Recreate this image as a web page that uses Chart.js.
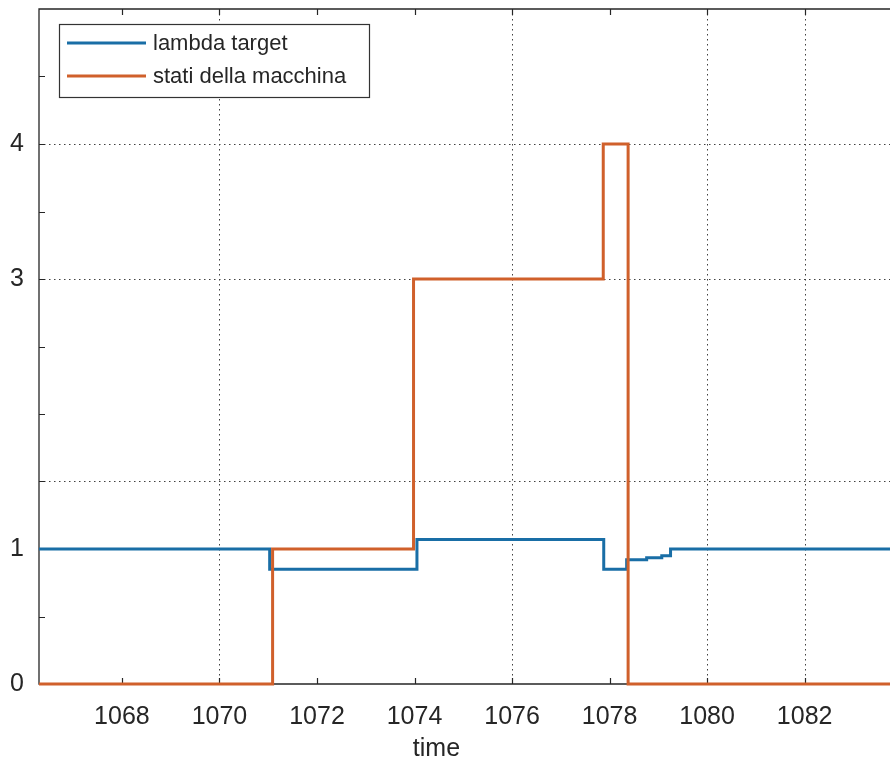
<!DOCTYPE html>
<html>
<head>
<meta charset="utf-8">
<script src="https://cdn.jsdelivr.net/npm/chart.js@4/dist/chart.umd.min.js"></script>
<style>
  html, body { margin: 0; padding: 0; background: #fff; }
  #wrap { width: 890px; height: 763px; }
</style>
</head>
<body>
<div id="wrap"><canvas id="chart" width="890" height="763"></canvas></div>
<script>
// values (step signals: value holds until the next time)
const lambdaTime  = [1066.3, 1071.03, 1074.05, 1077.88, 1078.35, 1078.76, 1079.07, 1079.25, 1083.75];
const lambdaValue = [1, 0.85, 1.07, 0.85, 0.92, 0.935, 0.95, 1, 1];
const statoTime   = [1066.3, 1071.09, 1073.98, 1077.87, 1078.38, 1083.75];
const statoValue  = [0, 1, 3, 4, 0, 0];

const xTicks  = [1068, 1070, 1072, 1074, 1076, 1078, 1080, 1082];
const yTicks  = [0, 0.5, 1, 1.5, 2, 2.5, 3, 3.5, 4, 4.5];
const yLabels = [0, 1, 3, 4];
const xGrid   = [1070, 1076, 1080, 1082];
const yGrid   = [1.5, 3, 4];

const X_MIN = 1066.3, X_MAX = 1083.75;
const BLUE = '#196ea6';
const ORANGE = '#d0602b';
const AXIS = '#262626';
const FONT = '"Liberation Sans", Arial, sans-serif';

function toPoints(xs, ys) {
    return xs.map((v, i) => ({ x: v, y: ys[i] }));
}

// matlab-ish axes: dotted grid, box, inward ticks, legend, xlabel
const axesBox = {
    id: 'axesBox',
    beforeDatasetsDraw(chart) {
        const { ctx, chartArea: a, scales: { x, y } } = chart;
        ctx.save();

        ctx.strokeStyle = '#404040';
        ctx.lineWidth = 1;
        ctx.setLineDash([1.5, 3.5]);
        ctx.beginPath();
        xGrid.forEach(v => {
            const px = Math.round(x.getPixelForValue(v)) + 0.5;
            ctx.moveTo(px, a.top); ctx.lineTo(px, a.bottom);
        });
        yGrid.forEach(v => {
            const py = Math.round(y.getPixelForValue(v)) + 0.5;
            ctx.moveTo(a.left, py); ctx.lineTo(a.right, py);
        });
        ctx.stroke();
        ctx.setLineDash([]);

        ctx.strokeStyle = AXIS;
        ctx.lineWidth = 1.3;
        ctx.beginPath();
        ctx.moveTo(a.right, a.top); ctx.lineTo(a.left, a.top);
        ctx.lineTo(a.left, a.bottom); ctx.lineTo(a.right, a.bottom);
        ctx.stroke();

        // inward tick marks
        const len = 6;
        ctx.lineWidth = 1.2;
        ctx.beginPath();
        yTicks.forEach(v => {
            const py = Math.round(y.getPixelForValue(v)) + 0.5;
            ctx.moveTo(a.left, py); ctx.lineTo(a.left + len, py);
        });
        xTicks.forEach(v => {
            const px = Math.round(x.getPixelForValue(v)) + 0.5;
            ctx.moveTo(px, a.bottom); ctx.lineTo(px, a.bottom - len);
            ctx.moveTo(px, a.top); ctx.lineTo(px, a.top + len);
        });
        ctx.stroke();
        ctx.restore();
    },
    afterDatasetsDraw(chart) {
        const { ctx, scales: { x } } = chart;
        ctx.save();

        // legend box
        const bx = 59.5, by = 24.5, bw = 310, bh = 73;
        ctx.fillStyle = '#fff';
        ctx.fillRect(bx, by, bw, bh);
        ctx.strokeStyle = '#333';
        ctx.lineWidth = 1.2;
        ctx.strokeRect(bx, by, bw, bh);

        ctx.font = '22px ' + FONT;
        ctx.textBaseline = 'middle';
        ctx.textAlign = 'left';
        chart.data.datasets.forEach((ds, i) => {
            const ly = 43 + i * 33;
            ctx.strokeStyle = ds.borderColor;
            ctx.lineWidth = 3;
            ctx.beginPath();
            ctx.moveTo(67, ly); ctx.lineTo(146, ly);
            ctx.stroke();
            ctx.fillStyle = AXIS;
            ctx.fillText(ds.label, 153, ly + 1);
        });

        // x label
        ctx.font = '25px ' + FONT;
        ctx.textAlign = 'center';
        ctx.textBaseline = 'alphabetic';
        ctx.fillStyle = AXIS;
        ctx.fillText('time', x.getPixelForValue(1074.45), 756);
        ctx.restore();
    }
};

const ctx = document.getElementById('chart').getContext('2d');
new Chart(ctx, {
    type: 'scatter',
    data: {
        datasets: [
            {
                label: 'lambda target',
                data: toPoints(lambdaTime, lambdaValue),
                showLine: true,
                stepped: true,
                borderColor: BLUE,
                borderWidth: 3,
                pointRadius: 0,
                clip: false,
                order: 2
            },
            {
                label: 'stati della macchina',
                data: toPoints(statoTime, statoValue),
                showLine: true,
                stepped: true,
                borderColor: ORANGE,
                borderWidth: 3,
                pointRadius: 0,
                clip: false,
                order: 1
            }
        ]
    },
    options: {
        responsive: false,
        animation: false,
        layout: { padding: { top: 9, right: 0, left: 0, bottom: 0 } },
        plugins: {
            legend: { display: false },
            tooltip: { enabled: false }
        },
        scales: {
            x: {
                type: 'linear',
                min: X_MIN,
                max: X_MAX,
                afterBuildTicks: s => { s.ticks = xTicks.map(v => ({ value: v })); },
                afterFit: s => { s.height = 79; s.paddingLeft = 0; s.paddingRight = 0; },
                grid: { display: false },
                border: { display: false },
                ticks: {
                    autoSkip: false,
                    maxRotation: 0,
                    padding: 10,
                    color: AXIS,
                    font: { family: FONT, size: 25 },
                    callback: v => String(v)
                }
            },
            y: {
                type: 'linear',
                min: 0,
                max: 5,
                afterBuildTicks: s => { s.ticks = yTicks.map(v => ({ value: v })); },
                afterFit: s => { s.width = 39; s.paddingTop = 0; s.paddingBottom = 0; },
                grid: { display: false },
                border: { display: false },
                ticks: {
                    autoSkip: false,
                    padding: 7,
                    color: AXIS,
                    font: { family: FONT, size: 25 },
                    callback: v => yLabels.includes(v) ? String(v) : ''
                }
            }
        }
    },
    plugins: [axesBox]
});
</script>
</body>
</html>
